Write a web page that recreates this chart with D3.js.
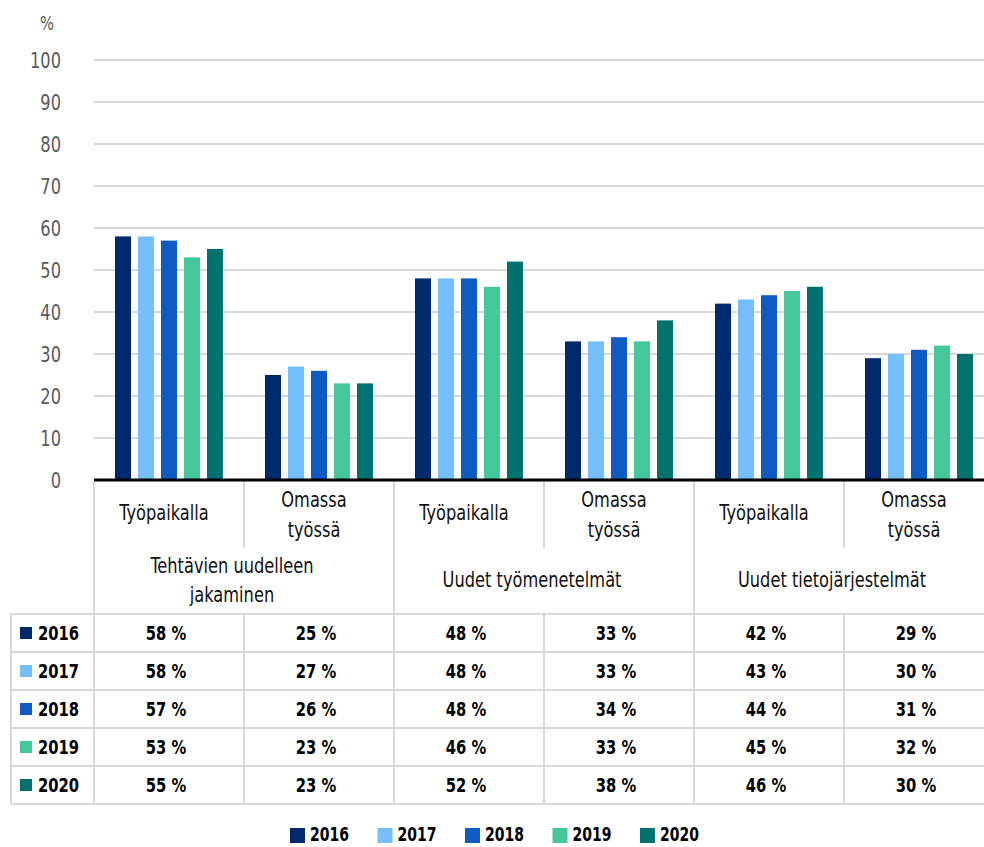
<!DOCTYPE html>
<html>
<head>
<meta charset="utf-8">
<script src="https://cdn.jsdelivr.net/npm/d3@7"></script>
<style>
  html, body { margin: 0; padding: 0; background: #fff; }
  svg { display: block; font-family: "DejaVu Sans Condensed", "DejaVu Sans", sans-serif; font-stretch: condensed; }
</style>
</head>
<body>
<svg id="chart" width="984" height="847"></svg>
<script>
// ---- data ----
const years = ["2016", "2017", "2018", "2019", "2020"];
const colors = ["#002A6C", "#75BFFF", "#105BC2", "#44C79A", "#00716E"];
const groupLines = [["Tehtävien uudelleen", "jakaminen"], ["Uudet työmenetelmät"], ["Uudet tietojärjestelmät"]];
const subLines = [["Työpaikalla"], ["Omassa", "työssä"]];
const categories = ["c1", "c2", "c3", "c4", "c5", "c6"];
const v2016 = [58, 25, 48, 33, 42, 29];
const v2017 = [58, 27, 48, 33, 43, 30];
const v2018 = [57, 26, 48, 34, 44, 31];
const v2019 = [53, 23, 46, 33, 45, 32];
const v2020 = [55, 23, 52, 38, 46, 30];
const series = [v2016, v2017, v2018, v2019, v2020];
const yTicks = [0, 10, 20, 30, 40, 50, 60, 70, 80, 90, 100];
const yUnit = "%";

// ---- layout ----
const svg = d3.select("#chart");
const W = 984;
const plotLeft = 94, plotRight = 994;
const y0 = 480, y100 = 60;
const tableLeft = 11;
const subBottom = 548, headBottom = 614, rowH = 38;
const gridCol = "#d9d9d9";
const SX = 0.82; // horizontal condensing of the text

const x = d3.scaleBand().domain(categories).range([plotLeft, plotRight]).padding(0);
const xi = d3.scaleBand().domain(years).range([0, x.bandwidth()]).paddingInner(0.304).paddingOuter(0.913);
const y = d3.scaleLinear().domain([0, 100]).range([y0, y100]);

function addText(px, py, str, o) {
  o = o || {};
  return svg.append("text")
    .attr("transform", `translate(${px},${py}) scale(${SX},1)`)
    .attr("text-anchor", o.anchor || "start")
    .attr("dy", o.dy || null)
    .attr("fill", o.fill || "#000")
    .style("font-size", (o.size || 20) + "px")
    .style("font-weight", o.bold ? "bold" : "normal")
    .text(str);
}

// gridlines
svg.append("g").selectAll("line").data(yTicks.filter(d => d > 0)).join("line")
  .attr("x1", plotLeft).attr("x2", W)
  .attr("y1", d => y(d)).attr("y2", d => y(d))
  .attr("stroke", gridCol).attr("stroke-width", 2);

// y axis labels (positions from the d3 scale)
yTicks.forEach(t => addText(61, y(t), String(t), { anchor: "end", dy: "0.36em", fill: "#595959", size: 22 }));
addText(47, 23, yUnit, { anchor: "middle", dy: "0.36em", fill: "#595959", size: 20 });

// bars
years.forEach((yr, i) => {
  svg.append("g").selectAll("rect").data(series[i]).join("rect")
    .attr("x", (d, j) => x(categories[j]) + xi(yr))
    .attr("width", xi.bandwidth())
    .attr("y", d => y(d))
    .attr("height", d => y0 - y(d))
    .attr("fill", colors[i]);
});

// table grid lines
const tl = svg.append("g").attr("stroke", gridCol).attr("stroke-width", 2);
const tableBottom = headBottom + rowH * years.length;
[0, 2, 4, 6].forEach(k => {
  const xx = plotLeft + k * x.bandwidth();
  tl.append("line").attr("x1", xx).attr("x2", xx).attr("y1", y0).attr("y2", tableBottom);
});
[1, 3, 5].forEach(k => {
  const xx = plotLeft + k * x.bandwidth();
  tl.append("line").attr("x1", xx).attr("x2", xx).attr("y1", y0).attr("y2", subBottom);
  tl.append("line").attr("x1", xx).attr("x2", xx).attr("y1", headBottom).attr("y2", tableBottom);
});
tl.append("line").attr("x1", tableLeft).attr("x2", tableLeft).attr("y1", headBottom - 1).attr("y2", tableBottom + 1);
d3.range(years.length + 1).forEach(r => {
  const yy = headBottom + r * rowH;
  tl.append("line").attr("x1", tableLeft).attr("x2", W).attr("y1", yy).attr("y2", yy);
});

// axis baseline
svg.append("line").attr("x1", plotLeft).attr("x2", W).attr("y1", y0).attr("y2", y0)
  .attr("stroke", "#000").attr("stroke-width", 3);

// sub labels
categories.forEach((c, j) => {
  const lines = subLines[j % 2];
  const cx = x(c) + x.bandwidth() / 2 - 5;
  const baselines = lines.length === 1 ? [520] : [507, 537];
  lines.forEach((ln, k) => addText(cx, baselines[k], ln, { anchor: "middle", fill: "#111", size: 22 }));
});

// group labels
groupLines.forEach((lines, g) => {
  const cx = plotLeft + (2 * g + 1) * x.bandwidth() - 12;
  const baselines = lines.length === 1 ? [587] : [573, 602];
  lines.forEach((ln, k) => addText(cx, baselines[k], ln, { anchor: "middle", fill: "#111", size: 22 }));
});

// table rows
years.forEach((yr, i) => {
  const cy = headBottom + i * rowH + rowH / 2;
  svg.append("rect").attr("x", 20).attr("y", cy - 6).attr("width", 12).attr("height", 12).attr("fill", colors[i]);
  addText(38, cy, yr, { dy: "0.36em", bold: true, size: 20 });
  series[i].forEach((v, j) => {
    addText(x(categories[j]) + x.bandwidth() / 2 - 3, cy, v + " %", { anchor: "middle", dy: "0.36em", bold: true, size: 20 });
  });
});

// legend
const lx = d3.scalePoint().domain(years).range([290, 640]);
years.forEach((yr, i) => {
  svg.append("rect").attr("x", lx(yr)).attr("y", 828).attr("width", 15).attr("height", 15).attr("fill", colors[i]);
  addText(lx(yr) + 20, 841, yr, { bold: true, size: 19 });
});
</script>
</body>
</html>
